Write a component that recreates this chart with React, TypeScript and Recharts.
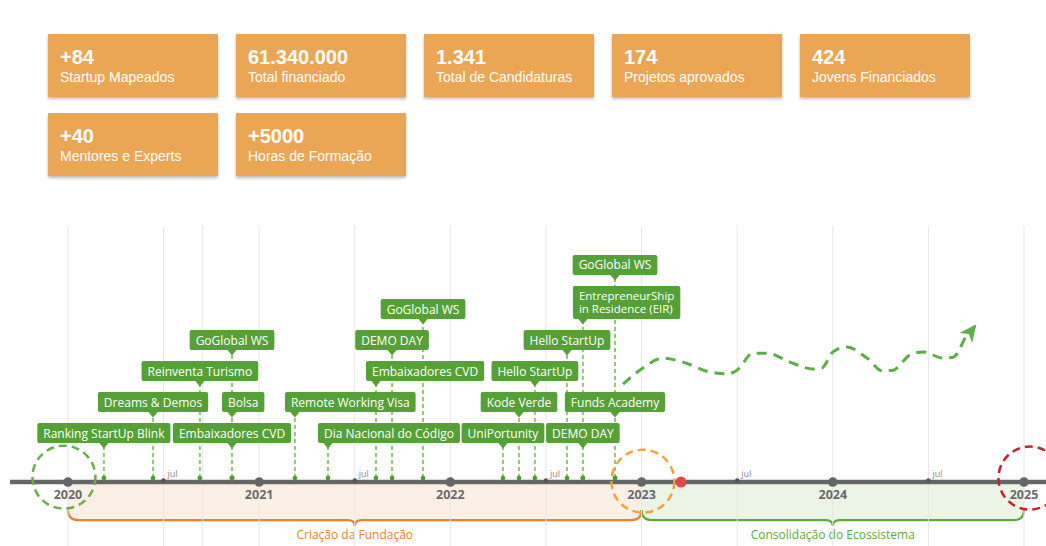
import React from 'react';
import {
  ComposedChart,
  XAxis,
  YAxis,
  Line,
  Scatter,
  ErrorBar,
  ReferenceArea,
  ReferenceDot,
  ReferenceLine,
} from 'recharts';

// ---------- KPI cards ----------
const kpiValues = ['+84', '61.340.000', '1.341', '174', '424', '+40', '+5000'];
const kpiLabels = [
  'Startup Mapeados',
  'Total financiado',
  'Total de Candidaturas',
  'Projetos aprovados',
  'Jovens Financiados',
  'Mentores e Experts',
  'Horas de Formação',
];

// ---------- Timeline ----------
const yearTicks = [2020, 2021, 2022, 2023, 2024, 2025];
const yearLabels = ['2020', '2021', '2022', '2023', '2024', '2025'];
const julTicks = [2020.5, 2021.5, 2022.5, 2023.5, 2024.5];
const julLabel = 'jul';
const extraGrid = [2020.705];

const eventLabels = [
  'Ranking StartUp Blink',
  'Dreams & Demos',
  'Reinventa Turismo',
  'Embaixadores CVD',
  'Bolsa',
  'GoGlobal WS',
  'Remote Working Visa',
  'Dia Nacional do Código',
  'Embaixadores CVD',
  'DEMO DAY',
  'GoGlobal WS',
  'UniPortunity',
  'Kode Verde',
  'Hello StartUp',
  'Hello StartUp',
  'DEMO DAY',
  'EntrepreneurShip\nin Residence (EIR)',
  'Funds Academy',
  'GoGlobal WS',
];
const eventDates = [
  2020.188, 2020.445, 2020.69, 2020.858, 2020.858, 2020.858, 2021.187, 2021.36,
  2021.611, 2021.695, 2021.857, 2022.275, 2022.359, 2022.442, 2022.61, 2022.693,
  2022.693, 2022.861, 2022.861,
];
const eventRows = [1, 2, 3, 1, 2, 4, 2, 1, 3, 4, 5, 1, 2, 3, 4, 1, 5, 2, 6.42];
const eventAnchors = ['c', 'c', 'c', 'c', 'l', 'c', 'l', 'l', 'l', 'c', 'c', 'c', 'c', 'c', 'c', 'c', 'l', 'c', 'c'];

const waveX = [
  2022.903, 2023.007, 2023.112, 2023.216, 2023.358, 2023.452, 2023.499, 2023.583,
  2023.656, 2023.776, 2023.896, 2023.943, 2024.001, 2024.074, 2024.179, 2024.262,
  2024.315, 2024.404, 2024.472, 2024.576, 2024.629, 2024.718, 2024.744,
];
const waveY = [
  2.9, 3.42, 3.74, 3.61, 3.29, 3.23, 3.35, 3.9, 3.9, 3.61, 3.39, 3.42, 3.94, 4.1,
  3.74, 3.32, 3.35, 3.84, 3.94, 3.74, 3.77, 4.65, 4.77,
];

const phaseLabels = ['Criação da Fundação', 'Consolidação do Ecossistema'];
const phaseStarts = [2020, 2023];
const phaseEnds = [2023, 2025];
const phaseStroke = ['#E8822B', '#5BAA3B'];
const phaseFill = ['#FCEDE2', '#E7F2E0'];

const markerDates = [2019.979, 2023.007, 2025.031];
const markerRows = [-0.1, -0.23, -0.13];
const markerColors = ['#69AE48', '#F0A33A', '#C4232C'];
const todayDate = 2023.206;

const AXIS_ROW = -0.258;
const DOT_ROW = -0.13;
const BAND_ROW = -1.484;
const X_DOMAIN: [number, number] = [2019.697, 2025.115];
const Y_DOMAIN: [number, number] = [-2.32, 8];

const GREEN = '#55A137';
const STEM = '#8FCB72';

const events = eventLabels.map((label, i) => ({
  x: eventDates[i],
  y: eventRows[i],
  label,
  anchor: eventAnchors[i],
  stem: [eventRows[i] - DOT_ROW, 0],
}));
const eventDots = eventDates.map((x) => ({ x, y: DOT_ROW }));
const yearData = yearTicks.map((x, i) => ({ x, y: AXIS_ROW, label: yearLabels[i] }));
const julData = julTicks.map((x) => ({ x, y: AXIS_ROW, label: julLabel }));
const waveData = waveX.map((x, i) => ({ x, y: waveY[i] }));
const axisData = X_DOMAIN.map((x) => ({ x, y: AXIS_ROW }));
const gridTicks = [...yearTicks, ...julTicks, ...extraGrid].sort((a, b) => a - b);

const FONT = "'Open Sans', 'DejaVu Sans', sans-serif";

let ctx: CanvasRenderingContext2D | null = null;
const measure = (t: string) => {
  if (!ctx) {
    const c = document.createElement('canvas');
    ctx = c.getContext('2d');
  }
  if (!ctx) return t.length * 6.5;
  ctx.font = `12px ${FONT}`;
  return ctx.measureText(t).width;
};

const EventShape = (props: any) => {
  const { cx, cy, payload } = props;
  const lines: string[] = payload.label.split('\n');
  const multi = lines.length > 1;
  const fs = multi ? 11.5 : 12;
  const tw = Math.max(...lines.map(measure)) * (fs / 12);
  const w = tw + 12;
  const h = multi ? 33 : 20;
  const left = payload.anchor === 'l' ? cx - 10 : cx - w / 2;
  return (
    <g>
      <rect x={left} y={cy - h} width={w} height={h} rx={2} ry={2} fill={GREEN} />
      <path d={`M${cx - 5},${cy - 0.5} L${cx + 5},${cy - 0.5} L${cx},${cy + 5.5} Z`} fill={GREEN} />
      {lines.map((ln, i) => (
        <text
          key={i}
          x={left + 6}
          y={cy - h + (multi ? 14 + i * 13 : 14.5)}
          fill="#fff"
          fontSize={fs}
          fontFamily={FONT}
        >
          {ln}
        </text>
      ))}
    </g>
  );
};

const EventDot = (props: any) => <circle cx={props.cx} cy={props.cy} r={2.4} fill="#4E9B30" />;

const YearShape = (props: any) => (
  <g>
    <circle cx={props.cx} cy={props.cy} r={4.8} fill="#666" />
    <text
      x={props.cx}
      y={props.cy + 17}
      textAnchor="middle"
      fontSize={12.5}
      fontWeight="bold"
      fill="#6a6a6a"
      fontFamily={FONT}
    >
      {props.payload.label}
    </text>
  </g>
);

const JulShape = (props: any) => (
  <g>
    <circle cx={props.cx} cy={props.cy - 1.5} r={2.2} fill="#555" />
    <text x={props.cx + 4} y={props.cy - 5} fontSize={9} fill="#888" fontFamily={FONT}>
      {props.payload.label}
    </text>
  </g>
);

const makeBand = (i: number) => (props: any) => {
  const { x, y, width, height } = props;
  const L = x;
  const R = x + width;
  const M = x + width / 2;
  const B = y + height;
  const r = 10;
  const fillPath = `M${L},${y} L${R},${y} L${R},${B - r} Q${R},${B} ${R - r},${B} L${L + r},${B} Q${L},${B} ${L},${B - r} Z`;
  const brace = `M${L},${B - r} Q${L},${B} ${L + r},${B} L${M - 7},${B} Q${M},${B} ${M},${B + 6} Q${M},${B} ${M + 7},${B} L${R - r},${B} Q${R},${B} ${R},${B - r}`;
  return (
    <g>
      <path d={fillPath} fill={phaseFill[i]} fillOpacity={0.85} />
      <path d={brace} fill="none" stroke={phaseStroke[i]} strokeWidth={2.2} />
      <text x={M} y={B + 19} textAnchor="middle" fontSize={12} fill={phaseStroke[i]} fontFamily={FONT}>
        {phaseLabels[i]}
      </text>
    </g>
  );
};

const WaveDot = (props: any) => {
  const { cx, cy, index } = props;
  if (index !== waveX.length - 1) return <g key={`wd${index}`} />;
  const ang = -52;
  return (
    <g key={`wd${index}`} transform={`translate(${cx},${cy}) rotate(${ang})`}>
      <path d="M2,0 L-15,-8 L-10,0 L-15,8 Z" fill="#5CAF48" />
    </g>
  );
};

const Card = ({ value, label }: { value: string; label: string }) => (
  <div
    style={{
      position: 'relative',
      width: 170,
      height: 63,
      background: '#EBA655',
      boxShadow: '0 2px 3px rgba(0,0,0,0.28)',
      color: '#fff',
      fontFamily: "Arial, 'Liberation Sans', Helvetica, sans-serif",
    }}
  >
    <div style={{ position: 'absolute', left: 12, top: 13, fontSize: 20, lineHeight: '20px', fontWeight: 'bold' }}>
      {value}
    </div>
    <div style={{ position: 'absolute', left: 12, top: 36, fontSize: 14, lineHeight: '14px' }}>{label}</div>
  </div>
);

export default function App() {
  return (
    <div style={{ position: 'relative', width: 1046, height: 546, background: '#fff' }}>
      <style>{'html,body{margin:0;padding:0;}'}</style>
      <div
        style={{
          position: 'absolute',
          left: 48,
          top: 34,
          display: 'grid',
          gridTemplateColumns: 'repeat(5, 170px)',
          gridAutoRows: '63px',
          columnGap: 18,
          rowGap: 16,
        }}
      >
        {kpiValues.map((v, i) => (
          <Card key={i} value={v} label={kpiLabels[i]} />
        ))}
      </div>
      <div style={{ position: 'absolute', left: 0, top: 220 }}>
        <ComposedChart width={1046} height={326} margin={{ top: 6, right: 0, bottom: 0, left: 10 }}>
          <XAxis type="number" dataKey="x" domain={X_DOMAIN} hide />
          <YAxis type="number" dataKey="y" domain={Y_DOMAIN} hide />
          {gridTicks.map((t) => (
            <ReferenceLine key={`g${t}`} x={t} stroke="#e6e6e6" strokeWidth={1} />
          ))}
          {phaseLabels.map((_, i) => (
            <ReferenceArea
              key={`band${i}`}
              x1={phaseStarts[i]}
              x2={phaseEnds[i]}
              y1={BAND_ROW}
              y2={AXIS_ROW}
              shape={makeBand(i)}
            />
          ))}
          <Line
            data={axisData}
            dataKey="y"
            stroke="#666"
            strokeWidth={4.5}
            dot={false}
            activeDot={false}
            isAnimationActive={false}
          />
          <Line
            data={waveData}
            dataKey="y"
            type="monotone"
            stroke="#5CAF48"
            strokeWidth={3}
            strokeDasharray="10 7"
            dot={WaveDot}
            activeDot={false}
            isAnimationActive={false}
          />
          <Scatter data={events} shape={EventShape} isAnimationActive={false}>
            <ErrorBar dataKey="stem" direction="y" width={0} stroke={STEM} strokeWidth={2} strokeDasharray="4 3" />
          </Scatter>
          <Scatter data={eventDots} shape={EventDot} isAnimationActive={false} />
          <Scatter data={julData} shape={JulShape} isAnimationActive={false} />
          <Scatter data={yearData} shape={YearShape} isAnimationActive={false} />
          {markerDates.map((d, i) => (
            <ReferenceDot
              key={`m${i}`}
              x={d}
              y={markerRows[i]}
              r={31}
              shape={(p: any) => (
                <circle
                  cx={p.cx}
                  cy={p.cy}
                  r={31.5}
                  fill="none"
                  stroke={markerColors[i]}
                  strokeWidth={2.5}
                  strokeDasharray="8 5"
                />
              )}
            />
          ))}
          <ReferenceDot
            x={todayDate}
            y={AXIS_ROW}
            r={5.5}
            shape={(p: any) => <circle cx={p.cx} cy={p.cy} r={5.5} fill="#E0464C" />}
          />
        </ComposedChart>
      </div>
    </div>
  );
}
